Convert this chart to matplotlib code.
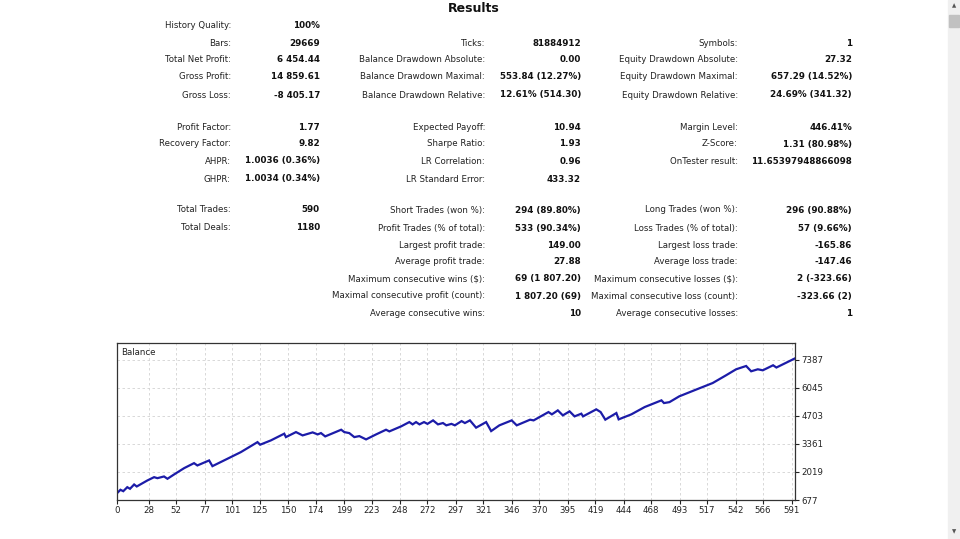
import matplotlib
matplotlib.use("Agg")
import matplotlib.pyplot as plt
from matplotlib.patches import Rectangle

# ---- report table ------------------------------------------------------
col1_labels = ["History Quality:", "Bars:", "Total Net Profit:", "Gross Profit:", "Gross Loss:",
               "Profit Factor:", "Recovery Factor:", "AHPR:", "GHPR:",
               "Total Trades:", "Total Deals:"]
col1_values = ["100%", "29669", "6 454.44", "14 859.61", "-8 405.17",
               "1.77", "9.82", "1.0036 (0.36%)", "1.0034 (0.34%)",
               "590", "1180"]
col1_rows = [26, 43, 60, 77, 95, 127, 144, 161, 179, 210, 228]

col2_labels = ["Ticks:", "Balance Drawdown Absolute:", "Balance Drawdown Maximal:",
               "Balance Drawdown Relative:",
               "Expected Payoff:", "Sharpe Ratio:", "LR Correlation:", "LR Standard Error:",
               "Short Trades (won %):", "Profit Trades (% of total):", "Largest profit trade:",
               "Average profit trade:", "Maximum consecutive wins ($):",
               "Maximal consecutive profit (count):", "Average consecutive wins:"]
col2_values = ["81884912", "0.00", "553.84 (12.27%)", "12.61% (514.30)",
               "10.94", "1.93", "0.96", "433.32",
               "294 (89.80%)", "533 (90.34%)", "149.00", "27.88", "69 (1 807.20)",
               "1 807.20 (69)", "10"]
col2_rows = [43, 60, 77, 95, 127, 144, 161, 179, 210, 228, 245, 262, 279, 296, 313]

col3_labels = ["Symbols:", "Equity Drawdown Absolute:", "Equity Drawdown Maximal:",
               "Equity Drawdown Relative:",
               "Margin Level:", "Z-Score:", "OnTester result:",
               "Long Trades (won %):", "Loss Trades (% of total):", "Largest loss trade:",
               "Average loss trade:", "Maximum consecutive losses ($):",
               "Maximal consecutive loss (count):", "Average consecutive losses:"]
col3_values = ["1", "27.32", "657.29 (14.52%)", "24.69% (341.32)",
               "446.41%", "1.31 (80.98%)", "11.65397948866098",
               "296 (90.88%)", "57 (9.66%)", "-165.86", "-147.46", "2 (-323.66)",
               "-323.66 (2)", "1"]
col3_rows = [43, 60, 77, 95, 127, 144, 161, 210, 228, 245, 262, 279, 296, 313]

# ---- balance curve (traced) --------------------------------------------
trades = [0, 3, 5.5, 9, 11.4, 15, 17.3, 26.6, 32.5, 35.4, 41.2, 44.2, 50, 58.8, 67.5,
          70.4, 80.7, 83.6, 96.8, 108.5, 123.1, 125.4, 134.8, 146.5, 148, 156.8,
          162.6, 171.4, 175.8, 178.7, 182.4, 196.4, 199.1, 203.5, 207.9, 212.3,
          218.2, 227, 235.7, 238.6, 248.9, 256.1, 259, 262, 265, 269, 272, 276.9,
          281.2, 285.6, 288.5, 293, 296, 301.9, 304.8, 309.2, 314.6, 323.4, 327.8,
          335, 345.8, 350.2, 361.9, 365, 378, 381, 386.2, 390.6, 396.5, 400.9,
          406.8, 408.3, 419.9, 423.7, 427.8, 437.5, 439.5, 450.6, 462.3, 477,
          479.2, 484, 492.6, 507.3, 521.9, 533.6, 542.4, 551.2, 555.6, 561.4,
          565.8, 574.8, 577.7, 594]
balance = [1000, 1166, 1099, 1290, 1214, 1420, 1324, 1612, 1770, 1722, 1803, 1693, 1899,
           2201, 2441, 2330, 2570, 2297, 2652, 2968, 3447, 3323, 3529, 3850, 3687,
           3927, 3768, 3912, 3816, 3880, 3720, 4040, 3927, 3879, 3687, 3735, 3577,
           3816, 4040, 3960, 4200, 4406, 4296, 4406, 4296, 4406, 4320, 4487, 4296,
           4360, 4250, 4320, 4250, 4453, 4360, 4487, 4138, 4406, 3975, 4250, 4487,
           4250, 4520, 4487, 4885, 4775, 4966, 4727, 4919, 4679, 4808, 4679, 5015,
           4886, 4521, 4838, 4535, 4775, 5125, 5446, 5316, 5360, 5638, 5959, 6275,
           6645, 6932, 7090, 6836, 6932, 6884, 7124, 7017, 7454]
x_ticks = [0, 28, 52, 77, 101, 125, 150, 174, 199, 223, 248, 272, 297, 321, 346,
           370, 395, 419, 444, 468, 493, 517, 542, 566, 591]
y_ticks = [677, 2019, 3361, 4703, 6045, 7387]

W, H = 960, 539
fig = plt.figure(figsize=(W / 100, H / 100), dpi=100)
plt.rcParams["font.family"] = ["DejaVu Sans"]

def fx(px):
    return px / W

def fy(py):
    return 1 - py / H

LAB_FS = 6.2
VAL_FS = 6.3
fig.text(fx(474), fy(8), "Results", ha="center", va="center",
         fontsize=9, fontweight="bold", color="#111")

for labels, values, rows, lab_x, val_x in [
        (col1_labels, col1_values, col1_rows, 231, 320),
        (col2_labels, col2_values, col2_rows, 485, 581),
        (col3_labels, col3_values, col3_rows, 738, 852)]:
    for lab, val, y in zip(labels, values, rows):
        fig.text(fx(lab_x), fy(y), lab, ha="right", va="center",
                 fontsize=LAB_FS, color="#222")
        fig.text(fx(val_x), fy(y), val, ha="right", va="center",
                 fontsize=VAL_FS, fontweight="bold", color="#111")

# ---- chart -------------------------------------------------------------
ax = fig.add_axes([fx(117), fy(500), (795 - 117) / W, (500 - 343) / H])
ax.plot(trades, balance, color="#1c1ca8", lw=1.6, solid_joinstyle="miter")
ax.set_xlim(0, 594)
ax.set_ylim(677, 8190)
ax.set_xticks(x_ticks)
ax.set_yticks(y_ticks)
ax.yaxis.tick_right()
ax.tick_params(axis="both", labelsize=6.2, length=3, width=0.8, pad=1.5, colors="#222")
ax.grid(True, ls=(0, (3, 3)), color="#d2d2d2", lw=0.6)
for s in ax.spines.values():
    s.set_color("#333")
    s.set_linewidth(0.9)
ax.text(0.006, 0.97, "Balance", transform=ax.transAxes, ha="left", va="top",
        fontsize=6.2, color="#222")

# ---- scrollbar ---------------------------------------------------------
fig.patches.append(Rectangle((fx(948), 0), 12 / W, 1, transform=fig.transFigure,
                             color="#f0f0f0", zorder=0))
fig.patches.append(Rectangle((fx(949), fy(27)), 10 / W, 12 / H, transform=fig.transFigure,
                             color="#c1c1c1", zorder=1))
fig.text(fx(954), fy(6), "▲", ha="center", va="center", fontsize=4, color="#555")
fig.text(fx(954), fy(532), "▼", ha="center", va="center", fontsize=4, color="#555")

fig.savefig("out.png", dpi=100)
